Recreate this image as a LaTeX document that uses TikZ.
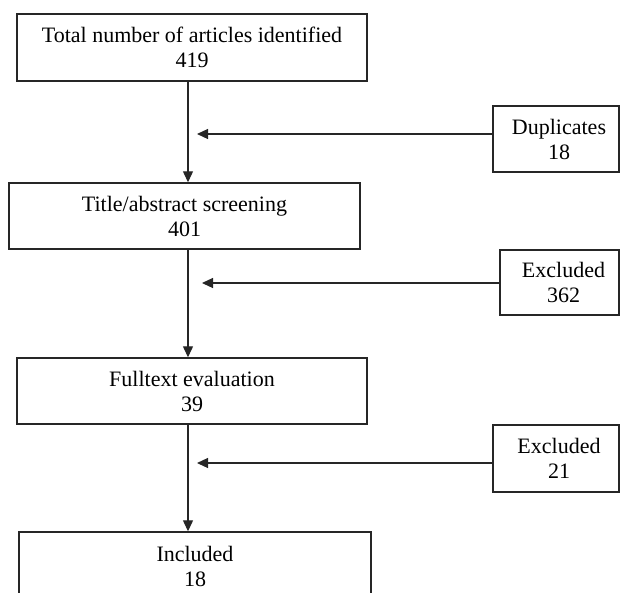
\documentclass[tikz,border=0pt]{standalone}
\usepackage{fontspec}
\setmainfont{Liberation Serif}
\usetikzlibrary{arrows.meta}
\begin{document}
\begin{tikzpicture}[x=1pt,y=-1pt,
  box/.style={draw=black!85, line width=1.4pt, rectangle, inner sep=0pt, align=center,
    font=\fontsize{22}{25}\selectfont, text=black},
  arr/.style={draw=black!85, line width=1.2pt, -{Triangle[length=11pt,width=10pt]}}]
\useasboundingbox (0,0) rectangle (620,592);
\node[box, minimum width=350pt, minimum height=67pt] (b1) at (192,47.5) {Total number of articles identified\\419};
\node[box, minimum width=351pt, minimum height=66pt] (b2) at (184.5,216) {Title/abstract screening\\401};
\node[box, minimum width=350pt, minimum height=66pt] (b3) at (192,391) {Fulltext evaluation\\39};
\node[box, minimum width=352pt, minimum height=68pt] (b4) at (195,566) {Included\\18};
\node[box, minimum width=126pt, minimum height=66pt] (d1) at (556,139) {\hspace*{6pt}Duplicates\\\hspace*{6pt}18};
\node[box, minimum width=119pt, minimum height=65pt] (e1) at (559.5,282.5) {\hspace*{8pt}Excluded\\\hspace*{8pt}362};
\node[box, minimum width=126pt, minimum height=67pt] (e2) at (556,458.5) {\hspace*{6pt}Excluded\\\hspace*{6pt}21};
\coordinate (v) at (188,0);
\coordinate (t1) at (197,134);
\coordinate (t2) at (202,283);
\coordinate (t3) at (197,463);
\draw[arr] (b1.south -| v) -- (b2.north -| v);
\draw[arr] (b2.south -| v) -- (b3.north -| v);
\draw[arr] (b3.south -| v) -- (b4.north -| v);
\draw[arr] (d1.west |- t1) -- (t1);
\draw[arr] (e1.west |- t2) -- (t2);
\draw[arr] (e2.west |- t3) -- (t3);
\end{tikzpicture}
\end{document}
